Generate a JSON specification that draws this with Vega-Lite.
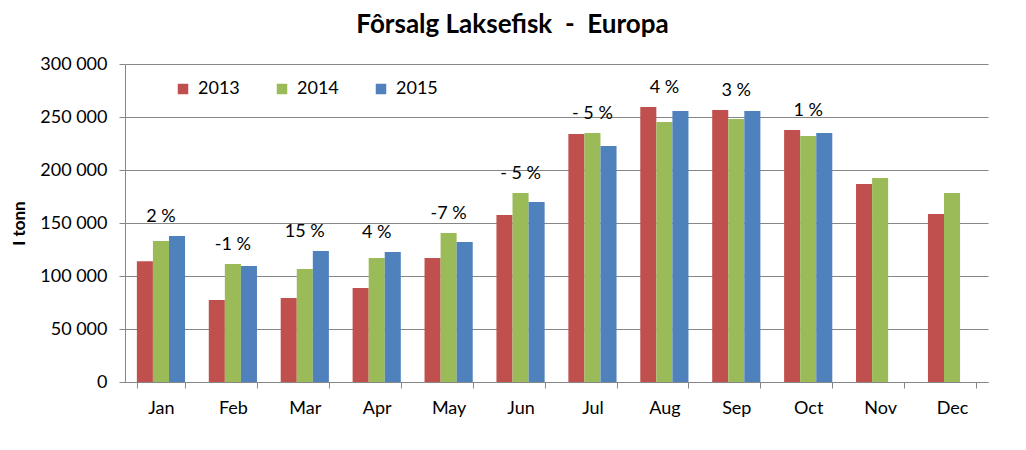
{
  "$schema": "https://vega.github.io/schema/vega-lite/v6.json",
  "width": 863,
  "height": 318,
  "autosize": {"type": "none"},
  "padding": {"left": 125, "top": 64, "right": 38, "bottom": 68},
  "title": {
    "text": "Fôrsalg Laksefisk \u00a0-\u00a0 Europa",
    "font": "Lato",
    "fontSize": 26,
    "fontWeight": "bold",
    "color": "#000000",
    "anchor": "middle",
    "dx": -44,
    "offset": 17
  },
  "data": {
    "values": [
      {"month": "Jan", "year": "2013", "value": 114000},
      {"month": "Jan", "year": "2014", "value": 133000},
      {"month": "Jan", "year": "2015", "value": 137700, "pct": "2 %"},
      {"month": "Feb", "year": "2013", "value": 77400},
      {"month": "Feb", "year": "2014", "value": 111300},
      {"month": "Feb", "year": "2015", "value": 109400, "pct": "-1 %"},
      {"month": "Mar", "year": "2013", "value": 79200},
      {"month": "Mar", "year": "2014", "value": 106600},
      {"month": "Mar", "year": "2015", "value": 123600, "pct": "15 %"},
      {"month": "Apr", "year": "2013", "value": 88700},
      {"month": "Apr", "year": "2014", "value": 117000},
      {"month": "Apr", "year": "2015", "value": 122600, "pct": "4 %"},
      {"month": "May", "year": "2013", "value": 117000},
      {"month": "May", "year": "2014", "value": 140600},
      {"month": "May", "year": "2015", "value": 132100, "pct": "-7 %"},
      {"month": "Jun", "year": "2013", "value": 157500},
      {"month": "Jun", "year": "2014", "value": 178300},
      {"month": "Jun", "year": "2015", "value": 169800, "pct": "- 5 %"},
      {"month": "Jul", "year": "2013", "value": 234000},
      {"month": "Jul", "year": "2014", "value": 234900},
      {"month": "Jul", "year": "2015", "value": 222600, "pct": "- 5 %"},
      {"month": "Aug", "year": "2013", "value": 259400},
      {"month": "Aug", "year": "2014", "value": 245300},
      {"month": "Aug", "year": "2015", "value": 255700, "pct": "4 %"},
      {"month": "Sep", "year": "2013", "value": 256600},
      {"month": "Sep", "year": "2014", "value": 248100},
      {"month": "Sep", "year": "2015", "value": 255700, "pct": "3 %"},
      {"month": "Oct", "year": "2013", "value": 237700},
      {"month": "Oct", "year": "2014", "value": 232100},
      {"month": "Oct", "year": "2015", "value": 234900, "pct": "1 %"},
      {"month": "Nov", "year": "2013", "value": 186800},
      {"month": "Nov", "year": "2014", "value": 192500},
      {"month": "Dec", "year": "2013", "value": 158500},
      {"month": "Dec", "year": "2014", "value": 178300}
    ]
  },
  "layer": [
    {
      "mark": {"type": "bar"},
      "encoding": {
        "x": {
          "field": "month",
          "type": "nominal",
          "sort": ["Jan","Feb","Mar","Apr","May","Jun","Jul","Aug","Sep","Oct","Nov","Dec"],
          "scale": {"paddingInner": 0.33, "paddingOuter": 0.165},
          "axis": {
            "title": null,
            "labelAngle": 0,
            "tickBand": "extent",
            "tickSize": 6,
            "labelPadding": 11,
            "labelFontSize": 18,
            "labelFont": "Lato",
            "labelColor": "#000000",
            "domainColor": "#868686",
            "tickColor": "#868686",
            "grid": false
          }
        },
        "xOffset": {"field": "year", "type": "nominal", "scale": {"domain": ["2013","2014","2015"]}},
        "y": {
          "field": "value",
          "type": "quantitative",
          "scale": {"domain": [0, 300000]},
          "axis": {
            "title": "I tonn",
            "titleFont": "Lato",
            "titleFontSize": 17,
            "titleFontWeight": "bold",
            "titleColor": "#000000",
            "titlePadding": 11,
            "values": [0, 50000, 100000, 150000, 200000, 250000, 300000],
            "format": ",d",
            "labelFont": "Lato",
            "labelFontSize": 18,
            "labelColor": "#000000",
            "labelPadding": 12,
            "tickSize": 6,
            "tickColor": "#868686",
            "domainColor": "#868686",
            "gridColor": "#868686",
            "grid": true
          }
        },
        "color": {
          "field": "year",
          "type": "nominal",
          "scale": {"domain": ["2013","2014","2015"], "range": ["#C0504D","#9BBB59","#4F81BD"]},
          "legend": {
            "title": null,
            "orient": "none",
            "direction": "horizontal",
            "legendX": 49,
            "legendY": 16,
            "symbolType": "square",
            "symbolSize": 110,
            "symbolStrokeWidth": 0,
            "labelFont": "Lato",
            "labelFontSize": 18,
            "labelColor": "#000000",
            "labelOffset": 6,
            "columnPadding": 33,
            "padding": 0
          }
        }
      }
    },
    {
      "transform": [
        {"joinaggregate": [{"op": "max", "field": "value", "as": "top"}], "groupby": ["month"]},
        {"filter": "isValid(datum.pct)"}
      ],
      "mark": {"type": "text", "font": "Lato", "fontSize": 18, "color": "#000000", "baseline": "middle", "dy": -19},
      "encoding": {
        "x": {"field": "month", "type": "nominal", "sort": ["Jan","Feb","Mar","Apr","May","Jun","Jul","Aug","Sep","Oct","Nov","Dec"]},
        "y": {"field": "top", "type": "quantitative"},
        "text": {"field": "pct", "type": "nominal"}
      }
    }
  ],
  "config": {
    "view": {"stroke": null},
    "locale": {"number": {"decimal": ",", "thousands": " ", "grouping": [3], "currency": ["", " kr"]}}
  }
}
